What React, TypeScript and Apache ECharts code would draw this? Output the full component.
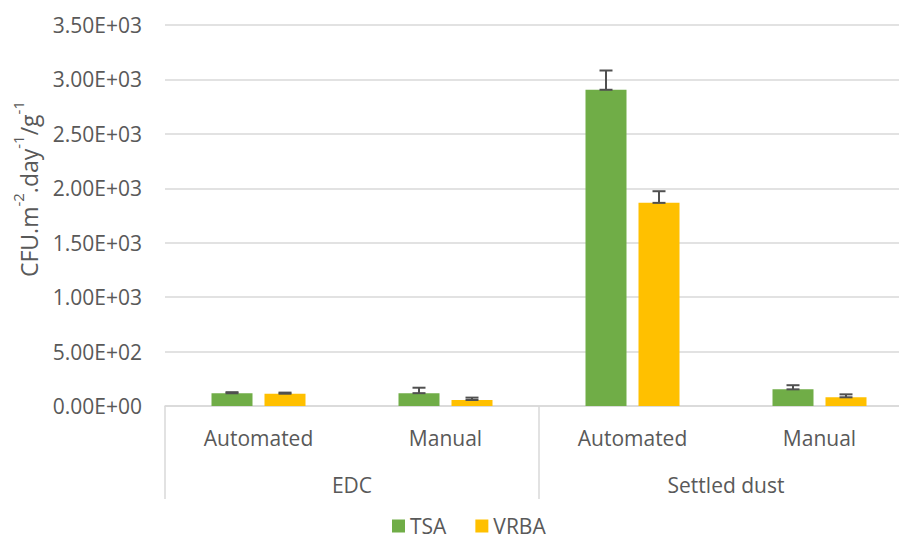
import React, { useEffect, useRef } from "react";
import * as echarts from "echarts";

const innerCategories = ["Automated", "Manual", "Automated", "Manual"];
const groupCategories = ["EDC", "Settled dust"];
const tsaValues = [117, 118, 2905, 153];
const vrbaValues = [113, 55, 1866, 80];
const tsaErrors = [10, 50, 177, 38];
const vrbaErrors = [10, 22, 107, 27];
const yTicks = { min: 0, max: 3500, interval: 500 };

const TEXT = "#595959";
const GRID = "#d9d9d9";
const FONT = "Open Sans";
const BAR_W = 41;
const BAR_GAP_PX = 12;

function fmtSci(v: number): string {
  const [m, e] = v.toExponential(2).split("e");
  const sign = e[0] === "-" ? "-" : "+";
  const digits = e.replace(/[+-]/, "").padStart(2, "0");
  return `${m}E${sign}${digits}`;
}

function errorSeries(name: string, values: number[], errs: number[], offset: number) {
  return {
    name,
    type: "custom",
    xAxisIndex: 0,
    yAxisIndex: 0,
    z: 10,
    encode: { x: 0, y: [1, 2] },
    data: values.map((v, i) => [i, v, v + errs[i]]),
    renderItem: (_params: any, api: any) => {
      const base = api.coord([api.value(0), api.value(1)]);
      const top = api.coord([api.value(0), api.value(2)]);
      const x = base[0] + offset;
      const yLow = base[1];
      const yHigh = top[1];
      const half = 6.5;
      const style = { stroke: "#505050", lineWidth: 2 };
      return {
        type: "group",
        children: [
          { type: "line", shape: { x1: x, y1: yLow, x2: x, y2: yHigh }, style },
          { type: "line", shape: { x1: x - half, y1: yHigh, x2: x + half, y2: yHigh }, style },
          { type: "line", shape: { x1: x - half, y1: yLow, x2: x + half, y2: yLow }, style },
        ],
      };
    },
  };
}

export default function App() {
  const ref = useRef<HTMLDivElement>(null);
  useEffect(() => {
    if (!ref.current) return;
    const chart = echarts.init(ref.current, undefined, { renderer: "svg" });
    const off = (BAR_W + BAR_GAP_PX) / 2;
    chart.setOption({
      animation: false,
      backgroundColor: "#ffffff",
      textStyle: { fontFamily: FONT },
      grid: { left: 165, right: 0, top: 25, bottom: 138, containLabel: false },
      legend: {
        data: ["TSA", "VRBA"],
        left: 387,
        top: 510,
        icon: "rect",
        itemWidth: 13,
        itemHeight: 13,
        itemGap: 29,
        textStyle: { fontFamily: FONT, fontSize: 21, lineHeight: 22, color: TEXT },
      },
      graphic: [
        {
          type: "text",
          x: 25,
          y: 189,
          rotation: Math.PI / 2,
          style: {
            text: "{a|CFU.m}{s|-2}{a|.day}{s|-1}{a|/g}{s|-1}",
            align: "center",
            verticalAlign: "middle",
            fill: TEXT,
            fontFamily: FONT,
            fontSize: 22,
            rich: {
              a: { fontFamily: FONT, fontSize: 23, fill: TEXT, lineHeight: 30, verticalAlign: "bottom" },
              s: { fontFamily: FONT, fontSize: 15, fill: TEXT, lineHeight: 30, verticalAlign: "top" },
            },
          },
        },
      ],
      xAxis: [
        {
          type: "category",
          data: innerCategories,
          position: "bottom",
          axisLine: { show: true, lineStyle: { color: GRID, width: 1.5 } },
          axisTick: { show: false },
          axisLabel: { interval: 0, margin: 21, fontFamily: FONT, fontSize: 21, color: TEXT },
        },
        {
          type: "category",
          data: groupCategories,
          position: "bottom",
          axisLine: { show: false },
          axisTick: { show: true, length: 93, lineStyle: { color: GRID, width: 1.5 } },
          axisLabel: { interval: 0, margin: 68, fontFamily: FONT, fontSize: 21, color: TEXT },
        },
      ],
      yAxis: {
        type: "value",
        min: yTicks.min,
        max: yTicks.max,
        interval: yTicks.interval,
        axisLine: { show: false },
        axisTick: { show: false },
        splitLine: { lineStyle: { color: GRID, width: 1.5 } },
        axisLabel: { margin: 23, fontFamily: FONT, fontSize: 21, color: TEXT, formatter: (v: number) => fmtSci(v) },
      },
      series: [
        {
          name: "TSA",
          type: "bar",
          data: tsaValues,
          barWidth: BAR_W,
          barGap: `${(BAR_GAP_PX / BAR_W) * 100}%`,
          itemStyle: { color: "#70AD47" },
        },
        {
          name: "VRBA",
          type: "bar",
          data: vrbaValues,
          barWidth: BAR_W,
          barGap: `${(BAR_GAP_PX / BAR_W) * 100}%`,
          itemStyle: { color: "#FFC000" },
        },
        errorSeries("TSA error", tsaValues, tsaErrors, -off),
        errorSeries("VRBA error", vrbaValues, vrbaErrors, off),
      ],
    });
    return () => chart.dispose();
  }, []);
  return (
    <div style={{ position: "fixed", left: 0, top: 0, width: 899, height: 544, overflow: "hidden", background: "#fff" }}>
      <div ref={ref} style={{ position: "absolute", left: 0, top: 0, width: 913, height: 544 }} />
    </div>
  );
}
